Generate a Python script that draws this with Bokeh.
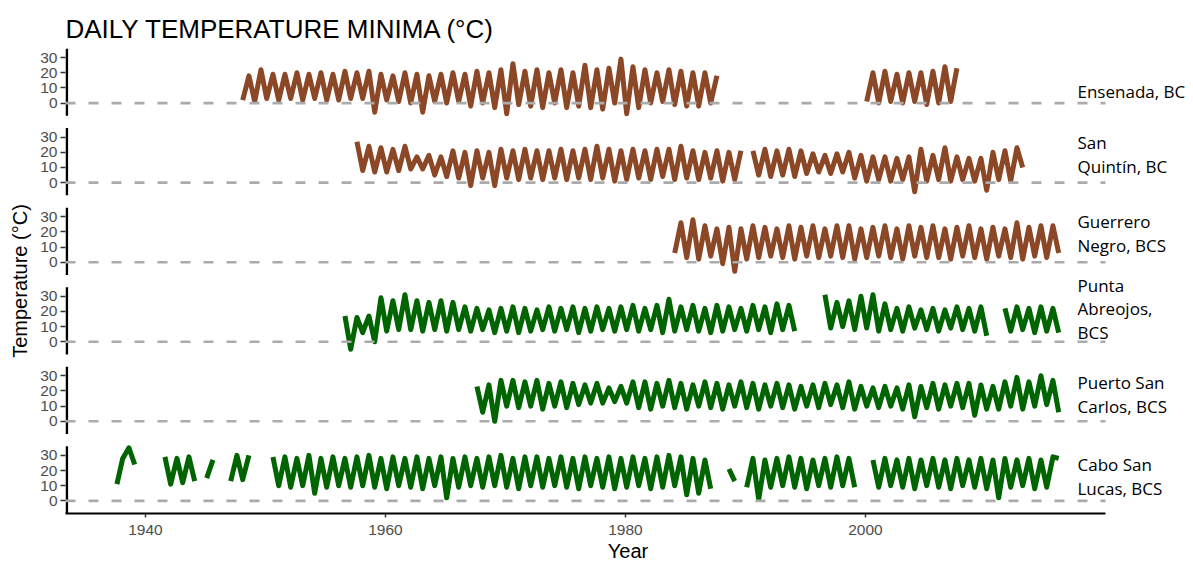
import math
from bokeh.plotting import figure
from bokeh.models import Range1d, Label, FixedTicker
from bokeh.embed import file_html
from bokeh.resources import INLINE

# ---------------- data ----------------
TITLE = "DAILY TEMPERATURE MINIMA (°C)"
Y_TITLE = "Temperature (°C)"
X_TITLE = "Year"
X_TICKS = [1940, 1960, 1980, 2000]
Y_TICKS = [0, 10, 20, 30]

STATION_LINES = [
    ["Ensenada, BC"],
    ["San", "Quintín, BC"],
    ["Guerrero", "Negro, BCS"],
    ["Punta", "Abreojos,", "BCS"],
    ["Puerto San", "Carlos, BCS"],
    ["Cabo San", "Lucas, BCS"],
]
N = None

# winter low / summer high of the daily minima, one pair per year
ens_first = 1948
ens_lo = [2, 1, 3, 2, 3, 2, 3, 2, 2, 3, 3, -6, 2, 1, 0, -6, 1, 0, 1, -2,
          0, -3, -7, -1, -2, -3, 0, -3, -2, -3, -4, 0, -7, -3, 0, 1, -1, -2, -2, 0,
          N, N, N, N, N, N, N, N, N, N, N, N,
          1, 0, 1, 0, 1, -1, 0, 1]
ens_hi = [18, 22, 19, 19, 20, 19, 20, 19, 21, 20, 21, 19, 18, 20, 19, 18, 19, 20, 19, 21,
          20, 22, 26, 21, 22, 20, 22, 20, 25, 22, 23, 29, 24, 22, 20, 22, 21, 20, 20, 18,
          N, N, N, N, N, N, N, N, N, N, N, N,
          20, 21, 19, 20, 20, 21, 24, 23]

sq_first = 1957
sq_lo = [N, 8, 7, 7, 8, 9, 9, 5, 4, 3, -2, 3, -2, 3, 2, 3, 2, 3, 2, 3,
         2, 3, 1, 2, 3, 2, 4, 2, 3, 2, 3, 1, 2, N, 5, 4, 5, 4, 6, 7,
         6, 7, 3, 1, 2, 1, 2, -6, 1, 2, 1, 2, 1, -5, 2, 1, 10]
sq_hi = [27, 24, 23, 22, 24, 17, 18, 17, 21, 20, 21, 20, 22, 21, 22, 21, 21, 22, 21, 22,
         24, 22, 21, 22, 21, 22, 22, 24, 21, 20, 21, 20, 21, 21, 22, 21, 22, 21, 19, 18,
         19, 20, 18, 17, 17, 16, 17, 22, 18, 23, 17, 16, 16, 20, 21, 23, N]

gn_first = 1984
gn_lo = [6, 3, 2, 4, -1, -6, 2, 3, 4, 3, 2, 4, 3, 4, 3, 2, 3, 4, 3, 2,
         4, 3, 3, 2, 4, 3, 2, 4, 3, 2, 4, 3, 6]
gn_hi = [26, 28, 24, 22, 23, 22, 24, 23, 22, 24, 23, 24, 22, 24, 24, 22, 23, 24, 22, 24,
         23, 24, 22, 23, 24, 22, 23, 22, 26, 23, 24, 24, N]

pa_first = 1956
pa_lo = [N, -5, 6, 0, 7, 8, 8, 7, 8, 7, 8, 7, 8, 6, 7, 6, 7, 8, 7, 8,
         6, 7, 8, 7, 8, 7, 8, 6, 7, 8, 7, 6, 7, 8, 7, 8, 6, 8, 7, N,
         N, 9, 10, 8, 9, 7, 8, 7, 9, 8, 7, 9, 8, 7, 4, N, 7, 8, 6, 7, 6]
pa_hi = [17, 16, 17, 29, 27, 31, 27, 26, 27, 26, 23, 22, 21, 22, 23, 22, 21, 23, 22, 23,
         22, 23, 22, 23, 24, 22, 24, 28, 23, 24, 22, 24, 23, 22, 24, 23, 25, 24, N, N,
         31, 26, 27, 30, 31, 25, 22, 23, 21, 22, 21, 23, 22, 23, N, 22, 23, 22, 23, 22, N]

psc_first = 1967
psc_lo = [N, 6, 0, 10, 9, 10, 8, 10, 9, 11, 12, 12, 13, 12, 9, 8, 10, 9, 8, 10,
          9, 8, 10, 9, 8, 10, 9, 8, 10, 9, 11, 9, 8, 10, 9, 10, 8, 3, 9, 8,
          10, 9, 4, 8, 8, 10, 8, 10, 11, 6]
psc_hi = [23, 24, 27, 27, 26, 27, 25, 26, 25, 24, 25, 22, 23, 26, 26, 25, 27, 25, 24, 26,
          25, 24, 26, 25, 24, 25, 24, 23, 24, 25, 24, 26, 23, 22, 23, 22, 24, 23, 25, 24,
          25, 25, 24, 23, 26, 29, 26, 30, 27, N]

csl_first = 1937
csl_lo = [N, 28, 24, N, N, 11, 12, 13, 15, N, 13, 14, N, N,
          10, 9, 10, 5, 9, 10, 9, 10, 9, 8, 10, 9, 8, 10, 2, 9, 10, 9, 10, 9,
          8, 10, 9, 10, 9, 8, 10, 9, 8, 9, 10, 8, 9, 10, 4, 5, 8, N, 13,
          9, 1, 9, 10, 9, 8, 10, 9, 10, 9, N,
          9, 10, 9, 8, 10, 9, 8, 10, 9, 8, 2, 9, 10, 8, 9, 28]
csl_hi = [11, 35, N, N, 29, 28, 29, N, 27, N, 30, 30, N, 29,
          29, 28, 30, 28, 29, 28, 29, 30, 28, 29, 28, 29, 28, 29, 28, 29, 28, 29, 30, 28,
          29, 29, 28, 29, 28, 29, 28, 29, 28, 29, 28, 29, 30, 29, 28, 27, N, 21, N,
          28, 27, 28, 29, 28, 27, 28, 29, 28, N, 27,
          28, 27, 28, 27, 28, 27, 28, 27, 28, 27, 28, 27, 28, 27, 29, N]

SERIES = [
    (ens_first, ens_lo, ens_hi),
    (sq_first, sq_lo, sq_hi),
    (gn_first, gn_lo, gn_hi),
    (pa_first, pa_lo, pa_hi),
    (psc_first, psc_lo, psc_hi),
    (csl_first, csl_lo, csl_hi),
]
COLORS = ["#8B4726", "#8B4726", "#8B4726", "#006400", "#006400", "#006400"]
DATA_END = 2020.0   # right end of the panels

# ---------------- layout constants ----------------
FONT = "Liberation Sans"
PPY = 12.0                  # pixels per year
PPD = 1.5185                # pixels per degree
PITCH = 52.5                # degrees between stacked panel baselines
T_LO, T_HI = -8.4, 36.0     # visible temperature extent of one panel
FRAME_L, FRAME_T, FRAME_B, FIG_W, FIG_H = 65, 48, 514, 1190, 564
X0 = 1940 - (145 - FRAME_L) / PPY
X1 = X0 + (FIG_W - FRAME_L) / PPY
Y_BOT = -(FRAME_B - 501.3) / PPD
Y_TOP = Y_BOT + (FRAME_B - FRAME_T) / PPD
LAST_BASE_PX = [12, 16.6, 17, 9.3, 14.8, 12.7]
LINE_STEP_PX = 23.7
STRIP_X_PX = 1077

offsets = [(5 - k) * PITCH for k in range(6)]

p = figure(width=FIG_W, height=FIG_H, x_range=Range1d(X0, X1),
           y_range=Range1d(Y_BOT, Y_TOP), toolbar_location=None,
           output_backend="svg", min_border_left=FRAME_L, min_border_right=0,
           min_border_top=FRAME_T, min_border_bottom=FIG_H - FRAME_B,
           outline_line_color=None, background_fill_color="white",
           border_fill_color="white")
p.grid.visible = False

# title
p.title.text = TITLE
p.title.text_font = FONT
p.title.text_font_size = "26px"
p.title.text_font_style = "normal"
p.title.text_color = "black"
p.title.align = "left"
p.title.offset = 0
p.title.standoff = 10

# y axis: real ticks for every panel, labels 0..30
ya = p.yaxis[0]
yt = []
ovr = {}
for off in offsets:
    for t in Y_TICKS:
        yt.append(off + t)
        ovr[off + t] = str(t)
ya.ticker = FixedTicker(ticks=yt)
ya.major_label_overrides = ovr
ya.axis_line_color = None
ya.major_tick_line_color = "#333333"
ya.major_tick_line_width = 1.5
ya.major_tick_out = 5
ya.major_tick_in = 0
ya.minor_tick_line_color = None
ya.major_label_text_font = FONT
ya.major_label_text_font_size = "15.5px"
ya.major_label_text_color = "#4D4D4D"
ya.major_label_standoff = 3
ya.axis_label = Y_TITLE
ya.axis_label_text_font = FONT
ya.axis_label_text_font_size = "20px"
ya.axis_label_text_font_style = "normal"
ya.axis_label_text_color = "black"
ya.axis_label_standoff = 6

# x axis
xa = p.xaxis[0]
xa.ticker = FixedTicker(ticks=X_TICKS)
xa.bounds = (X0, DATA_END)
xa.axis_line_color = "black"
xa.axis_line_width = 2
xa.major_tick_line_color = "#333333"
xa.major_tick_line_width = 1.5
xa.major_tick_out = 4
xa.major_tick_in = 0
xa.minor_tick_line_color = None
xa.major_label_text_font = FONT
xa.major_label_text_font_size = "15.5px"
xa.major_label_text_color = "#4D4D4D"
xa.major_label_standoff = 7
xa.axis_label = X_TITLE
xa.axis_label_text_font = FONT
xa.axis_label_text_font_size = "20px"
xa.axis_label_text_font_style = "normal"
xa.axis_label_text_color = "black"
xa.axis_label_standoff = 2


def to_xy(first, lo, hi, off):
    xs, ys = [], []
    for i in range(len(lo)):
        yr = first + i
        xs.append(yr + 0.10)
        ys.append(math.nan if lo[i] is None else lo[i] + off)
        xs.append(yr + 0.62)
        ys.append(math.nan if hi[i] is None else hi[i] + off)
    return xs, ys


axis_x = X0 + 1.3 / PPY
for k in range(6):
    off = offsets[k]
    # panel axis line (broken between panels)
    p.segment(x0=[axis_x], y0=[off + T_LO], x1=[axis_x], y1=[off + T_HI],
              line_color="black", line_width=2.6)
    # data
    first, lo, hi = SERIES[k]
    xs, ys = to_xy(first, lo, hi, off)
    p.line(xs, ys, line_color=COLORS[k], line_width=5, line_join="round")
    # zero reference line
    p.segment(x0=[X0], y0=[off], x1=[DATA_END], y1=[off],
              line_color="#ABABAB", line_width=2.6, line_dash="10 13")
    # strip labels
    lines = STATION_LINES[k]
    n = len(lines)
    for j, t in enumerate(lines):
        base_px = LAST_BASE_PX[k] + (n - 1 - j) * LINE_STEP_PX
        p.add_layout(Label(x=X0 + (STRIP_X_PX - FRAME_L) / PPY,
                           y=off + base_px / PPD, text=t,
                           text_font="Open Sans", text_font_size="17px",
                           text_color="black", text_align="left",
                           text_baseline="alphabetic"))

open("out.html", "w").write(file_html(p, INLINE))
